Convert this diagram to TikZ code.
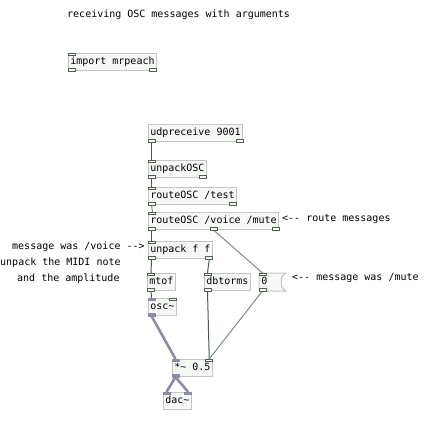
\documentclass[tikz,border=0pt]{standalone}
\usepackage{fontspec}
\setmonofont{DejaVu Sans Mono}
\usetikzlibrary{calc,backgrounds}
\definecolor{boxbd}{HTML}{C4C4C4}
\definecolor{boxfill}{HTML}{F6F8F6}
\definecolor{portbd}{HTML}{4F5F4F}
\definecolor{sigport}{HTML}{8C8CA4}
\definecolor{ctl}{HTML}{4A5A4A}
\definecolor{ctllight}{HTML}{7E8E7E}
\definecolor{sig}{HTML}{8C8CA8}
\tikzset{
 pdfont/.style={font=\ttfamily\fontsize{10}{12}\selectfont},
 obj/.style={draw=boxbd, fill=boxfill, line width=1pt, anchor=north west, inner xsep=1.8pt, inner ysep=0pt, minimum height=17pt, text height=7.5pt, text depth=2pt, pdfont},
 cmt/.style={anchor=west, inner sep=0pt, pdfont},
 cport/.style={draw=portbd, fill=boxfill, line width=0.8pt},
 sport/.style={draw=sigport, fill=sigport, line width=0.8pt},
 cwire/.style={draw=ctl, line width=1pt},
 lwire/.style={draw=ctllight, line width=1pt},
 swire/.style={draw=sig, line width=2.6pt},
}
\newcommand\pinL[2][cport]{\path[#1] (#2.north west) rectangle ++(7,2.5);}
\newcommand\pinR[2][cport]{\path[#1] ($(#2.north east)+(-7,0)$) rectangle ++(7,2.5);}
\newcommand\poutL[2][cport]{\path[#1] (#2.south west) rectangle ++(7,-2.5);}
\newcommand\poutR[2][cport]{\path[#1] ($(#2.south east)+(-7,0)$) rectangle ++(7,-2.5);}
\newcommand\poutM[2][cport]{\path[#1] ($(#2.south)+(-3.5,0)$) rectangle ++(7,-2.5);}
\begin{document}
\begin{tikzpicture}[x=1pt,y=-1pt]
\useasboundingbox (0,0) rectangle (432,421);
% comments
\node[cmt] (title) at (67,15) {receiving OSC messages with arguments};
\node[cmt] (c1) at (282,219) {<-- route messages};
\node[cmt] (c2) at (12,247) {message was /voice -->};
\node[cmt] (c3) at (0,263) {unpack the MIDI note};
\node[cmt] (c4) at (17,279) {and the amplitude};
\node[cmt] (c5) at (292,278) {<-- message was /mute};
% objects
\node[obj] (imp) at (68,53) {import mrpeach};
\node[obj] (udp) at (148,124) {udpreceive 9001};
\node[obj] (uosc) at (148,160) {unpackOSC};
\node[obj] (rt) at (148,187) {routeOSC /test};
\node[obj] (rv) at (148,212) {routeOSC /voice /mute};
\node[obj] (unp) at (148,241) {unpack f f};
\node[obj] (mtof) at (147,273) {mtof};
\node[obj] (dbt) at (204,273) {dbtorms};
\node[obj, draw=none, fill=none, text width=18pt, align=left] (zero) at (259,273) {0};
\begin{scope}[on background layer]
\path[draw=boxbd, fill=boxfill, line width=1pt] (zero.north west) -- ($(zero.north east)+(4,0)$) -- ($(zero.north east)+(0,4)$) -- ($(zero.south east)+(0,-4)$) -- ($(zero.south east)+(4,0)$) -- (zero.south west) -- cycle;
\end{scope}
\node[obj] (osc) at (148,298) {osc\textasciitilde};
\node[obj] (mul) at (172,359) {*\textasciitilde{} 0.5};
\node[obj] (dac) at (163,392) {dac\textasciitilde};
% control wires
\draw[cwire] ($(udp.south west)+(3.5,0)$) -- ($(uosc.north west)+(3.5,0)$);
\draw[cwire] ($(uosc.south west)+(3.5,0)$) -- ($(rt.north west)+(3.5,0)$);
\draw[lwire] ($(rt.south west)+(3.5,0)$) -- ($(rv.north west)+(4.5,0)$);
\draw[cwire] ($(rv.south west)+(3.5,0)$) -- ($(unp.north west)+(3.5,0)$);
\draw[lwire] (rv.south) -- ($(zero.north west)+(3.5,0)$);
\draw[cwire] ($(unp.south west)+(3.5,0)$) -- ($(mtof.north west)+(4,0)$);
\draw[cwire] ($(unp.south east)+(-3.5,0)$) -- ($(dbt.north west)+(3.5,0)$);
\draw[cwire] ($(mtof.south west)+(4,0)$) -- ($(osc.north west)+(3.5,0)$);
\draw[cwire] ($(dbt.south west)+(3.5,0)$) -- ($(mul.north east)+(-3.5,0)$);
\draw[lwire] ($(zero.south west)+(3.5,0)$) -- ($(mul.north east)+(-3.5,0)$);
% signal wires
\draw[swire] ($(osc.south west)+(3.5,0)$) -- ($(mul.north west)+(3.5,0)$);
\draw[swire] ($(mul.south west)+(3.5,0)$) -- ($(dac.north west)+(3.5,0)$);
\draw[swire] ($(mul.south west)+(3.5,0)$) -- ($(dac.north east)+(-3.5,0)$);
% ports
\pinL{imp}\poutL{imp}\poutR{imp}
\poutL{udp}\poutR{udp}
\pinL{uosc}\poutL{uosc}\poutR{uosc}
\pinL{rt}\poutL{rt}\poutR{rt}
\pinL{rv}\poutL{rv}\poutM{rv}\poutR{rv}
\pinL{unp}\poutL{unp}\poutR{unp}
\pinL{mtof}\poutL{mtof}
\pinL{dbt}\poutL{dbt}
\pinL{zero}\poutL{zero}
\pinL[sport]{osc}\pinR{osc}\poutL[sport]{osc}
\pinL[sport]{mul}\pinR{mul}\poutL[sport]{mul}
\pinL[sport]{dac}\pinR[sport]{dac}
\end{tikzpicture}
\end{document}
